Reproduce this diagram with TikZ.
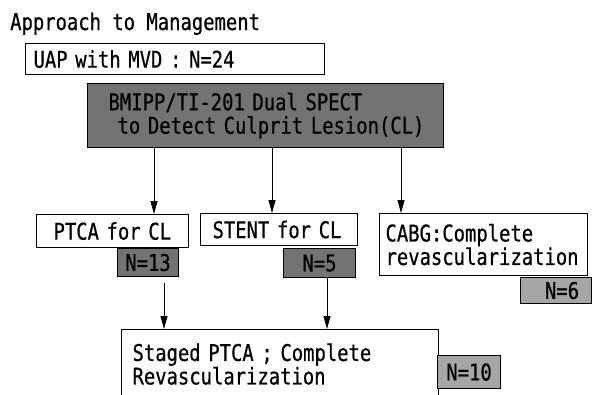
\documentclass[tikz,border=0pt]{standalone}
\usepackage{fontspec}
\usetikzlibrary{arrows.meta}
\newfontfamily\gothic[FakeStretch=0.82, FakeBold=0.6]{DejaVu Sans Mono}

\begin{document}
\begin{tikzpicture}[x=1pt, y=-1pt,
		>={Triangle[length=13pt,width=7pt]},
		font=\gothic\fontsize{23}{23.5}\selectfont,
		box/.style={draw, line width=1.1pt, anchor=north west, align=left, inner ysep=0pt},
		count/.style={draw, line width=1.1pt, anchor=north west, inner sep=0pt},
		arr/.style={->, line width=0.8pt}]
		\useasboundingbox (0,0) rectangle (592,394);
		\node[anchor=base west, inner sep=0pt] (title) at (10,30) {Approach to Management};
		% boxes
		\node[box, inner xsep=8pt, text width=283pt, minimum height=31pt] (uap) at (25,43) {UAP with MVD : N=24};
		\node[box, fill=black!55, inner xsep=3pt, text width=350pt, minimum height=64pt] (spect) at (87,83)
			{\hspace*{18pt}BMIPP/TI-201 Dual SPECT\\\hspace*{27pt}to Detect Culprit Lesion(CL)};
		\node[box, inner xsep=8pt, text width=136pt, minimum height=33pt] (ptca) at (36,214) {\hspace*{9pt}PTCA for CL};
		\node[box, inner xsep=6pt, text width=145pt, minimum height=32pt] (stent) at (200,213) {\hspace*{6pt}STENT for CL};
		\node[box, inner xsep=4pt, text width=200pt, minimum height=62pt] (cabg) at (379,213)
			{\hspace*{2pt}CABG:Complete\\\hspace*{2pt}revascularization};
		\node[box, inner xsep=11pt, text width=295pt, minimum height=69pt] (staged) at (121,329)
			{Staged PTCA ; Complete\\Revascularization};
		% counts
		\node[count, fill=black!55, minimum width=61pt, minimum height=28pt] (n13) at (117,248) {N=13};
		\node[count, fill=black!55, minimum width=72pt, minimum height=29pt] (n5) at (283,248) {N=5};
		\node[count, fill=black!35, minimum width=71pt, minimum height=26pt] (n6) at (520,277) {\hspace*{12pt}N=6};
		\node[count, fill=black!35, minimum width=63pt, minimum height=33pt] (n10) at (437,355) {N=10};
		% arrows
		\coordinate (c1) at (154,0); \coordinate (c2) at (272,0); \coordinate (c3) at (401,0);
		\coordinate (c4) at (164,0); \coordinate (c5) at (327,0);
		\draw[arr] (spect.south -| c1) -- (ptca.north -| c1);
		\draw[arr] (spect.south -| c2) -- (stent.north -| c2);
		\draw[arr] (spect.south -| c3) -- (cabg.north -| c3);
		\draw[arr] ([yshift=-6pt]n13.south -| c4) -- (staged.north -| c4);
		\draw[arr] (n5.south -| c5) -- (staged.north -| c5);
	\end{tikzpicture}
\end{document}
